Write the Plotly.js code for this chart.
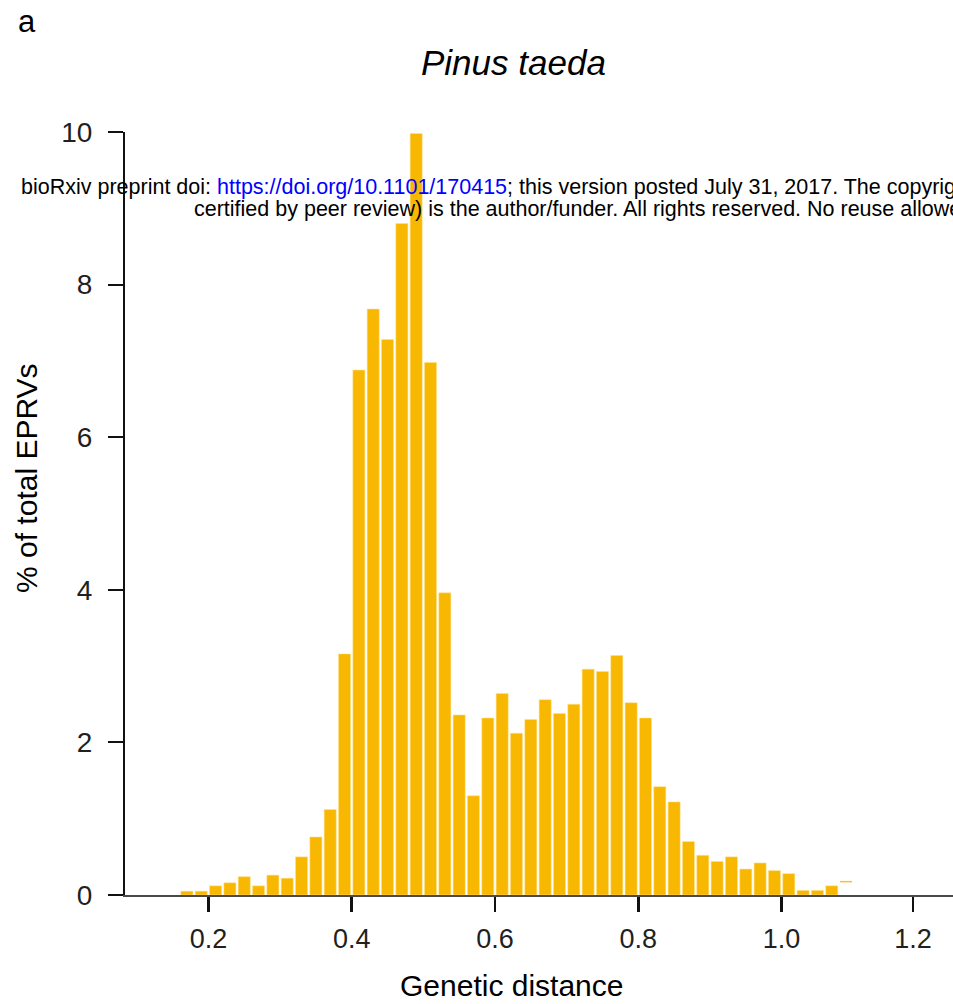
<!DOCTYPE html>
<html>
<head>
<meta charset="utf-8">
<script src="https://cdn.plot.ly/plotly-3.0.1.min.js"></script>
<style>html,body{margin:0;padding:0;background:#fff;}</style>
</head>
<body>
<div id="chart" style="width:953px;height:1004px;"></div>
<script>
// Bin centres (genetic distance, bin width 0.02)
const binCenters = [0.17,0.19,0.21,0.23,0.25,0.27,0.29,0.31,0.33,0.35,0.37,0.39,0.41,0.43,0.45,0.47,0.49,0.51,0.53,0.55,0.57,0.59,0.61,0.63,0.65,0.67,0.69,0.71,0.73,0.75,0.77,0.79,0.81,0.83,0.85,0.87,0.89,0.91,0.93,0.95,0.97,0.99,1.01,1.03,1.05,1.07];
// % of total EPRVs
const pctEPRVs = [0.05,0.05,0.12,0.16,0.24,0.12,0.26,0.22,0.50,0.76,1.12,3.16,6.88,7.68,7.28,8.80,9.98,6.98,3.96,2.36,1.30,2.32,2.64,2.12,2.30,2.56,2.38,2.50,2.96,2.93,3.14,2.52,2.32,1.42,1.22,0.70,0.52,0.44,0.50,0.34,0.42,0.32,0.28,0.06,0.06,0.12];
// stray marks visible in the figure (centre, level, half-width)
const strayX = [1.032, 1.09];
const strayY = [-0.10, 0.175];
const strayHalfW = [0.0063, 0.0084];
const strayColors = ['#F9D870','#F8C030'];
const xTickVals = [0.2,0.4,0.6,0.8,1.0,1.1833];
const xTickText = ["0.2","0.4","0.6","0.8","1.0","1.2"];
const yTickVals = [0,2,4,6,8,10];
const yTickText = ["0","2","4","6","8","10"];

const W = 953, H = 1004;
const M = {l:125, r:0, t:132, b:109};
const pw = W - M.l - M.r, ph = H - M.t - M.b;
const px = v => (v - M.l) / pw;
const py = v => (H - M.b - v) / ph;

const FONT = 'Liberation Sans, Arial, Helvetica, sans-serif';
const barColor = '#F8B700';

const traces = [
  {
    type:'bar', x: binCenters, y: pctEPRVs, width: 0.0168,
    marker:{color: barColor, line:{color:'rgba(255,225,140,0.9)', width:0.6}},
    hoverinfo:'x+y'
  }
];
strayX.forEach((c, i) => {
  traces.push({
    type:'scatter', mode:'lines',
    x:[c - strayHalfW[i], c + strayHalfW[i]], y:[strayY[i], strayY[i]],
    line:{color: strayColors[i], width:1.5}, cliponaxis:false, hoverinfo:'skip'
  });
});

const layout = {
  width: W, height: H,
  margin: M,
  paper_bgcolor:'#fff', plot_bgcolor:'#fff',
  showlegend:false,
  font:{family:FONT, color:'#231F20'},
  xaxis:{
    range:[0.0836, 1.2392], showgrid:false, zeroline:false,
    showline:true, linecolor:'#4a4a4a', linewidth:2,
    ticks:'outside', ticklen:15, tickwidth:2.5, tickcolor:'#111',
    tickvals: xTickVals, ticktext: xTickText,
    tickfont:{size:27, color:'#231F20', family:FONT},
    ticklabelstandoff: 4
  },
  yaxis:{
    range:[0,10], showgrid:false, zeroline:false,
    showline:true, linecolor:'#111', linewidth:2,
    ticks:'outside', ticklen:15, tickwidth:2, tickcolor:'#111',
    tickvals: yTickVals, ticktext: yTickText,
    tickfont:{size:28, color:'#231F20', family:FONT},
    ticklabelstandoff: 10
  },
  annotations:[
    {xref:'paper', yref:'paper', x:px(513), y:py(62), xanchor:'center', yanchor:'middle',
     text:'<i>Pinus taeda</i>', showarrow:false, font:{size:35, color:'#000', family:FONT}},
    {xref:'paper', yref:'paper', x:px(27), y:py(21), xanchor:'center', yanchor:'middle',
     text:'a', showarrow:false, font:{size:31, color:'#000', family:FONT}},
    {xref:'paper', yref:'paper', x:px(511), y:py(985), xanchor:'center', yanchor:'middle',
     text:'Genetic distance', showarrow:false, font:{size:30, color:'#000', family:FONT}},
    {xref:'paper', yref:'paper', x:px(26), y:py(478), xanchor:'center', yanchor:'middle',
     text:'% of total EPRVs', textangle:-90, showarrow:false, font:{size:30, color:'#000', family:FONT}},
    {xref:'paper', yref:'paper', x:px(19), y:py(187), xanchor:'left', yanchor:'middle',
     text:'bioRxiv preprint doi: <span style="color:#0000FF">https://doi.org/10.1101/170415</span>; this version posted July 31, 2017. The copyrig',
     showarrow:false, font:{size:21.5, color:'#000', family:FONT}},
    {xref:'paper', yref:'paper', x:px(192), y:py(209), xanchor:'left', yanchor:'middle',
     text:'certified by peer review) is the author/funder. All rights reserved. No reuse allowe',
     showarrow:false, font:{size:21.5, color:'#000', family:FONT}}
  ]
};

Plotly.newPlot('chart', traces, layout, {staticPlot:true, displayModeBar:false});
</script>
</body>
</html>
